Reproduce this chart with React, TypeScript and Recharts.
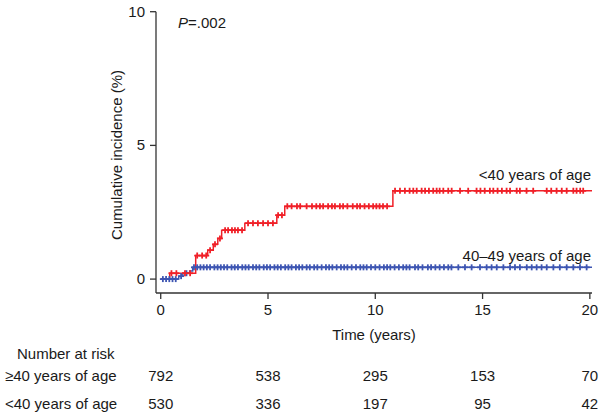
import { ComposedChart, Line, Scatter, XAxis, YAxis } from 'recharts'

const FONT = '"Liberation Sans", Arial, sans-serif'
const RED = '#f02028'
const BLUE = '#3d55b2'
const INK = '#1a1a1a'

// step curves: time (years) -> cumulative incidence (%)
const youngTimes = [0, 0.42, 1.63, 2.19, 2.45, 2.66, 2.84, 3.92, 5.41, 5.78, 10.82, 20.2]
const youngValues = [0, 0.22, 0.88, 1.08, 1.3, 1.52, 1.83, 2.09, 2.39, 2.72, 3.3, 3.3]
const olderTimes = [0, 0.84, 1.03, 1.35, 1.49, 20.25]
const olderValues = [0, 0.11, 0.22, 0.3, 0.44, 0.44]

// censoring marks (+)
const youngCensored = [
  0.5, 0.73, 1.13, 1.37, 1.7, 1.93, 2.12, 2.3, 2.53, 2.76, 3.0, 3.14, 3.32, 3.46, 3.6, 3.79,
  4.07, 4.3, 4.53, 4.77, 5.0, 5.23, 5.47, 5.65, 5.9, 6.1, 6.35, 6.5, 6.8, 7.05, 7.25, 7.42,
  7.57, 7.8, 7.98, 8.12, 8.35, 8.5, 8.7, 8.95, 9.15, 9.29, 9.5, 9.7, 9.9, 10.05, 10.2, 10.36,
  10.55, 10.92, 11.15, 11.38, 11.6, 11.77, 11.93, 12.16, 12.32, 12.5, 12.7, 12.86, 13.0, 13.17,
  13.4, 13.56, 13.95, 14.33, 14.72, 14.9, 15.1, 15.34, 15.5, 15.7, 15.9, 16.12, 16.28, 16.59,
  16.74, 17.05, 17.36, 17.99, 18.2, 18.45, 18.69, 18.92, 19.23, 19.38, 19.55, 19.69,
]
const olderCensored = [
  0.1, 0.25, 0.4, 0.55, 0.7, 0.95, 1.2, 1.55, 1.7, 1.85, 2.0, 2.15, 2.3, 2.5, 2.65, 2.8, 2.95,
  3.1, 3.3, 3.45, 3.6, 3.8, 3.95, 4.1, 4.3, 4.45, 4.6, 4.8, 4.95, 5.1, 5.3, 5.45, 5.6, 5.8,
  5.95, 6.1, 6.3, 6.45, 6.6, 6.8, 6.95, 7.15, 7.3, 7.5, 7.7, 7.85, 8.0, 8.2, 8.4, 8.55, 8.7,
  8.9, 9.1, 9.3, 9.45, 9.6, 9.8, 10.0, 10.2, 10.4, 10.55, 10.7, 10.9, 11.1, 11.3, 11.45, 11.6,
  11.85, 12.0, 12.2, 12.45, 12.6, 12.8, 13.0, 13.2, 13.4, 13.55, 13.87, 14.18, 14.49, 14.88,
  15.19, 15.42, 15.66, 15.97, 16.28, 16.51, 16.74, 17.06, 17.29, 17.52, 17.75, 17.99, 18.3,
  18.6, 18.92, 19.23, 19.54, 19.85,
]

const xTicks = [0, 5, 10, 15, 20]
const yTicks = [0, 5, 10]
const riskOlder = [792, 538, 295, 153, 70]
const riskYoung = [530, 336, 197, 95, 42]

const toSteps = (ts: number[], vs: number[]) => ts.map((t, i) => ({ t, v: vs[i] }))
const valueAt = (ts: number[], vs: number[], t: number) => {
  let v = vs[0]
  ts.forEach((s, i) => { if (s <= t) v = vs[i] })
  return v
}

const youngData = toSteps(youngTimes, youngValues)
const olderData = toSteps(olderTimes, olderValues)
const youngMarks = youngCensored.map(t => ({ t, v: valueAt(youngTimes, youngValues, t) }))
const olderMarks = olderCensored.map(t => ({ t, v: valueAt(olderTimes, olderValues, t) }))

const txt = { fontFamily: FONT, fontSize: 15, fill: INK }

function plus(color: string) {
  // eslint-disable-next-line @typescript-eslint/no-explicit-any
  return (p: any) => (
    <g stroke={color} strokeWidth={1.8}>
      <line x1={p.cx - 3} x2={p.cx + 3} y1={p.cy} y2={p.cy} />
      <line x1={p.cx} x2={p.cx} y1={p.cy - 3} y2={p.cy + 3} />
    </g>
  )
}

// eslint-disable-next-line @typescript-eslint/no-explicit-any
function XTick({ x, y, payload, index }: any) {
  return (
    <g>
      <text x={x} y={y + 13.5} textAnchor="middle" {...txt}>{payload.value}</text>
      <text x={x} y={y + 80} textAnchor="middle" {...txt}>{riskOlder[index]}</text>
      <text x={x} y={y + 108} textAnchor="middle" {...txt}>{riskYoung[index]}</text>
    </g>
  )
}

// eslint-disable-next-line @typescript-eslint/no-explicit-any
function YTick({ x, y, payload }: any) {
  return <text x={x} y={y + 5} textAnchor="end" {...txt}>{payload.value}</text>
}

// eslint-disable-next-line @typescript-eslint/no-explicit-any
function XLabel({ viewBox }: any) {
  const cx = viewBox.x + viewBox.width / 2
  return (
    <g>
      <text x={cx} y={340} textAnchor="middle" {...txt}>Time (years)</text>
      <text x={17} y={359} {...txt}>Number at risk</text>
      <text x={5} y={381} {...txt}>≥40 years of age</text>
      <text x={5} y={409} {...txt}>&lt;40 years of age</text>
    </g>
  )
}

function YLabel() {
  return (
    <g>
      <text x={116} y={155} transform="rotate(-90 116 155)" textAnchor="middle" dominantBaseline="central" {...txt}>
        Cumulative incidence (%)
      </text>
      <text x={178} y={28} {...txt}>
        <tspan fontStyle="italic">P</tspan>=.002
      </text>
      <text x={591} y={180} textAnchor="end" {...txt}>&lt;40 years of age</text>
      <text x={591} y={261} textAnchor="end" {...txt}>40–49 years of age</text>
    </g>
  )
}

export default function App() {
  return (
    <div style={{ position: 'absolute', left: 0, top: 0, width: 606, height: 420, background: '#fff' }}>
      <ComposedChart width={606} height={420} margin={{ top: 11.7, right: 14, bottom: 0, left: 0 }}>
        <XAxis
          dataKey="t" type="number" domain={[-0.22, 20.1]} ticks={xTicks} allowDataOverflow
          height={127} stroke="#333" strokeWidth={1.3} tickSize={6}
          tick={<XTick />} label={<XLabel />}
        />
        <YAxis
          dataKey="v" type="number" domain={[-0.52, 10]} ticks={yTicks} allowDataOverflow
          width={156} stroke="#333" strokeWidth={1.3} tickSize={6} tickMargin={5}
          tick={<YTick />} label={<YLabel />}
        />
        <Line data={olderData} dataKey="v" type="stepAfter" stroke={BLUE} strokeWidth={1.5} dot={false} isAnimationActive={false} />
        <Line data={youngData} dataKey="v" type="stepAfter" stroke={RED} strokeWidth={1.5} dot={false} isAnimationActive={false} />
        <Scatter data={olderMarks} dataKey="v" shape={plus(BLUE)} isAnimationActive={false} />
        <Scatter data={youngMarks} dataKey="v" shape={plus(RED)} isAnimationActive={false} />
      </ComposedChart>
    </div>
  )
}
